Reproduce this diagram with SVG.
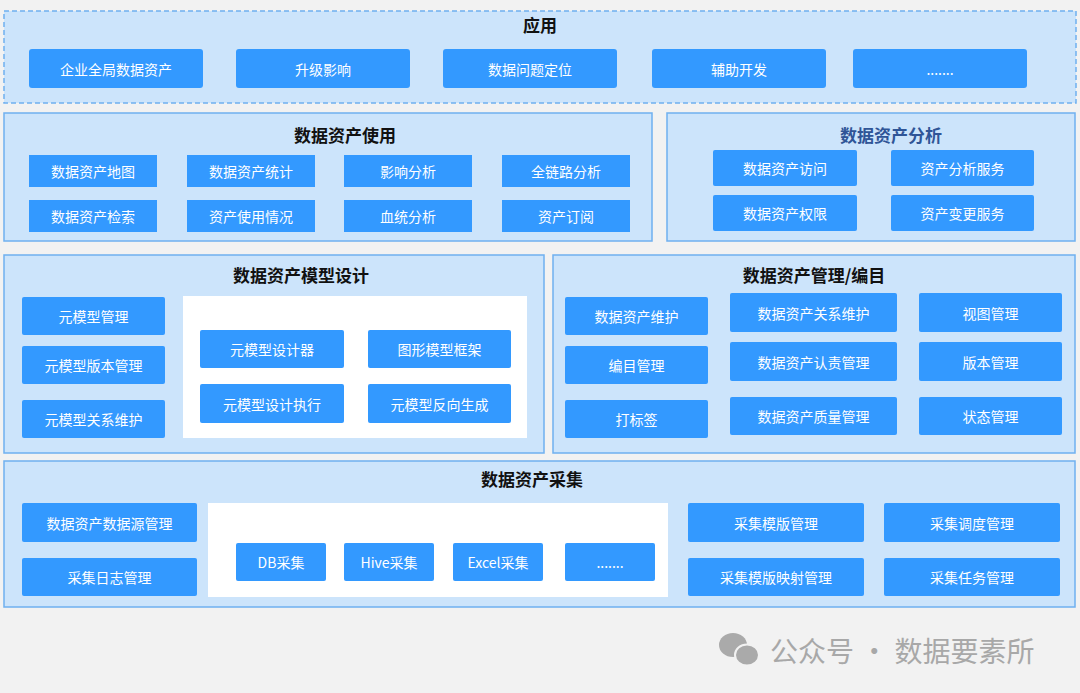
<svg xmlns="http://www.w3.org/2000/svg" width="1080" height="693" viewBox="0 0 1080 693">
<style>
.p{fill:#cce4fb;stroke:#6fb0f0;stroke-width:1.5}
.w{fill:#fff}
.b{fill:#3399ff}
.t{font-family:"Noto Sans CJK SC",sans-serif;font-size:14px;fill:#fff;text-anchor:middle;dominant-baseline:central}
.h{font-family:"Noto Sans CJK SC",sans-serif;font-size:17px;font-weight:bold;fill:#111;text-anchor:middle;dominant-baseline:central}
</style>
<rect width="1080" height="693" fill="#f2f2f2"/>
<g id="app">
<rect x="4" y="11" width="1072" height="92" class="p" stroke-dasharray="5,3"/>
<text x="540" y="24" class="h">应用</text>
<rect x="29" y="49" width="174" height="39" rx="3" class="b"/><text x="116" y="68.5" class="t">企业全局数据资产</text>
<rect x="236" y="49" width="174" height="39" rx="3" class="b"/><text x="323" y="68.5" class="t">升级影响</text>
<rect x="443" y="49" width="174" height="39" rx="3" class="b"/><text x="530" y="68.5" class="t">数据问题定位</text>
<rect x="652" y="49" width="174" height="39" rx="3" class="b"/><text x="739" y="68.5" class="t">辅助开发</text>
<rect x="853" y="49" width="174" height="39" rx="3" class="b"/><text x="940" y="68.5" class="t">.......</text>
</g>
<g id="use">
<rect x="4" y="113" width="648" height="128" class="p"/>
<text x="345" y="134" class="h">数据资产使用</text>
<rect x="29" y="155" width="128" height="32" class="b"/><text x="93" y="171" class="t">数据资产地图</text>
<rect x="187" y="155" width="128" height="32" class="b"/><text x="251" y="171" class="t">数据资产统计</text>
<rect x="344" y="155" width="128" height="32" class="b"/><text x="408" y="171" class="t">影响分析</text>
<rect x="502" y="155" width="128" height="32" class="b"/><text x="566" y="171" class="t">全链路分析</text>
<rect x="29" y="200" width="128" height="32" class="b"/><text x="93" y="216" class="t">数据资产检索</text>
<rect x="187" y="200" width="128" height="32" class="b"/><text x="251" y="216" class="t">资产使用情况</text>
<rect x="344" y="200" width="128" height="32" class="b"/><text x="408" y="216" class="t">血统分析</text>
<rect x="502" y="200" width="128" height="32" class="b"/><text x="566" y="216" class="t">资产订阅</text>
</g>
<g id="analysis">
<rect x="667" y="113" width="408" height="128" class="p"/>
<text x="891" y="134" class="h" style="fill:#2f5597">数据资产分析</text>
<rect x="713" y="150" width="144" height="36" rx="2" class="b"/><text x="785" y="168" class="t">数据资产访问</text>
<rect x="891" y="150" width="143" height="36" rx="2" class="b"/><text x="962.5" y="168" class="t">资产分析服务</text>
<rect x="713" y="195" width="144" height="36" rx="2" class="b"/><text x="785" y="213" class="t">数据资产权限</text>
<rect x="891" y="195" width="143" height="36" rx="2" class="b"/><text x="962.5" y="213" class="t">资产变更服务</text>
</g>
<g id="model">
<rect x="4" y="255" width="540" height="198" class="p"/>
<text x="301" y="274" class="h">数据资产模型设计</text>
<rect x="22" y="297" width="143" height="38" rx="2" class="b"/><text x="93.5" y="316" class="t">元模型管理</text>
<rect x="22" y="346" width="143" height="38" rx="2" class="b"/><text x="93.5" y="365" class="t">元模型版本管理</text>
<rect x="22" y="400" width="143" height="38" rx="2" class="b"/><text x="93.5" y="419" class="t">元模型关系维护</text>
<rect x="183" y="296" width="344" height="142" class="w"/>
<rect x="200" y="330" width="144" height="38" rx="2" class="b"/><text x="272" y="349" class="t">元模型设计器</text>
<rect x="368" y="330" width="143" height="38" rx="2" class="b"/><text x="439.5" y="349" class="t">图形模型框架</text>
<rect x="200" y="384" width="144" height="39" rx="2" class="b"/><text x="272" y="403.5" class="t">元模型设计执行</text>
<rect x="368" y="384" width="143" height="39" rx="2" class="b"/><text x="439.5" y="403.5" class="t">元模型反向生成</text>
</g>
<g id="mgmt">
<rect x="553" y="255" width="522" height="198" class="p"/>
<text x="814" y="274" class="h">数据资产管理/编目</text>
<rect x="565" y="297" width="143" height="38" rx="2" class="b"/><text x="636.5" y="316" class="t">数据资产维护</text>
<rect x="565" y="346" width="143" height="38" rx="2" class="b"/><text x="636.5" y="365" class="t">编目管理</text>
<rect x="565" y="400" width="143" height="38" rx="2" class="b"/><text x="636.5" y="419" class="t">打标签</text>
<rect x="730" y="293" width="167" height="39" rx="2" class="b"/><text x="813.5" y="312.5" class="t">数据资产关系维护</text>
<rect x="730" y="342" width="167" height="39" rx="2" class="b"/><text x="813.5" y="361.5" class="t">数据资产认责管理</text>
<rect x="730" y="397" width="167" height="38" rx="2" class="b"/><text x="813.5" y="416" class="t">数据资产质量管理</text>
<rect x="919" y="293" width="143" height="39" rx="2" class="b"/><text x="990.5" y="312.5" class="t">视图管理</text>
<rect x="919" y="342" width="143" height="39" rx="2" class="b"/><text x="990.5" y="361.5" class="t">版本管理</text>
<rect x="919" y="397" width="143" height="38" rx="2" class="b"/><text x="990.5" y="416" class="t">状态管理</text>
</g>
<g id="collect">
<rect x="4" y="461" width="1071" height="146" class="p"/>
<text x="532" y="478" class="h">数据资产采集</text>
<rect x="22" y="503" width="175" height="39" rx="2" class="b"/><text x="109.5" y="522.5" class="t">数据资产数据源管理</text>
<rect x="22" y="558" width="175" height="38" rx="2" class="b"/><text x="109.5" y="577" class="t">采集日志管理</text>
<rect x="208" y="503" width="460" height="94" class="w"/>
<rect x="236" y="543" width="90" height="38" rx="2" class="b"/><text x="281" y="562" class="t">DB采集</text>
<rect x="344" y="543" width="90" height="38" rx="2" class="b"/><text x="389" y="562" class="t">Hive采集</text>
<rect x="453" y="543" width="90" height="38" rx="2" class="b"/><text x="498" y="562" class="t">Excel采集</text>
<rect x="565" y="543" width="90" height="38" rx="2" class="b"/><text x="610" y="562" class="t">.......</text>
<rect x="688" y="503" width="176" height="39" rx="2" class="b"/><text x="776" y="522.5" class="t">采集模版管理</text>
<rect x="688" y="558" width="176" height="38" rx="2" class="b"/><text x="776" y="577" class="t">采集模版映射管理</text>
<rect x="884" y="503" width="176" height="39" rx="2" class="b"/><text x="972" y="522.5" class="t">采集调度管理</text>
<rect x="884" y="558" width="176" height="38" rx="2" class="b"/><text x="972" y="577" class="t">采集任务管理</text>
</g>
<g id="connectors"></g>
<g id="watermark" fill="#aaaaaa">
<ellipse cx="733" cy="645" rx="14" ry="12"/>
<ellipse cx="747" cy="655" rx="12" ry="10.5" stroke="#f2f2f2" stroke-width="2"/>
<text x="770" y="650" style="font-family:'Noto Sans CJK SC',sans-serif;font-size:28px;fill:#a8a8a8;dominant-baseline:central">公众号 · 数据要素所</text>
</g>
</svg>
